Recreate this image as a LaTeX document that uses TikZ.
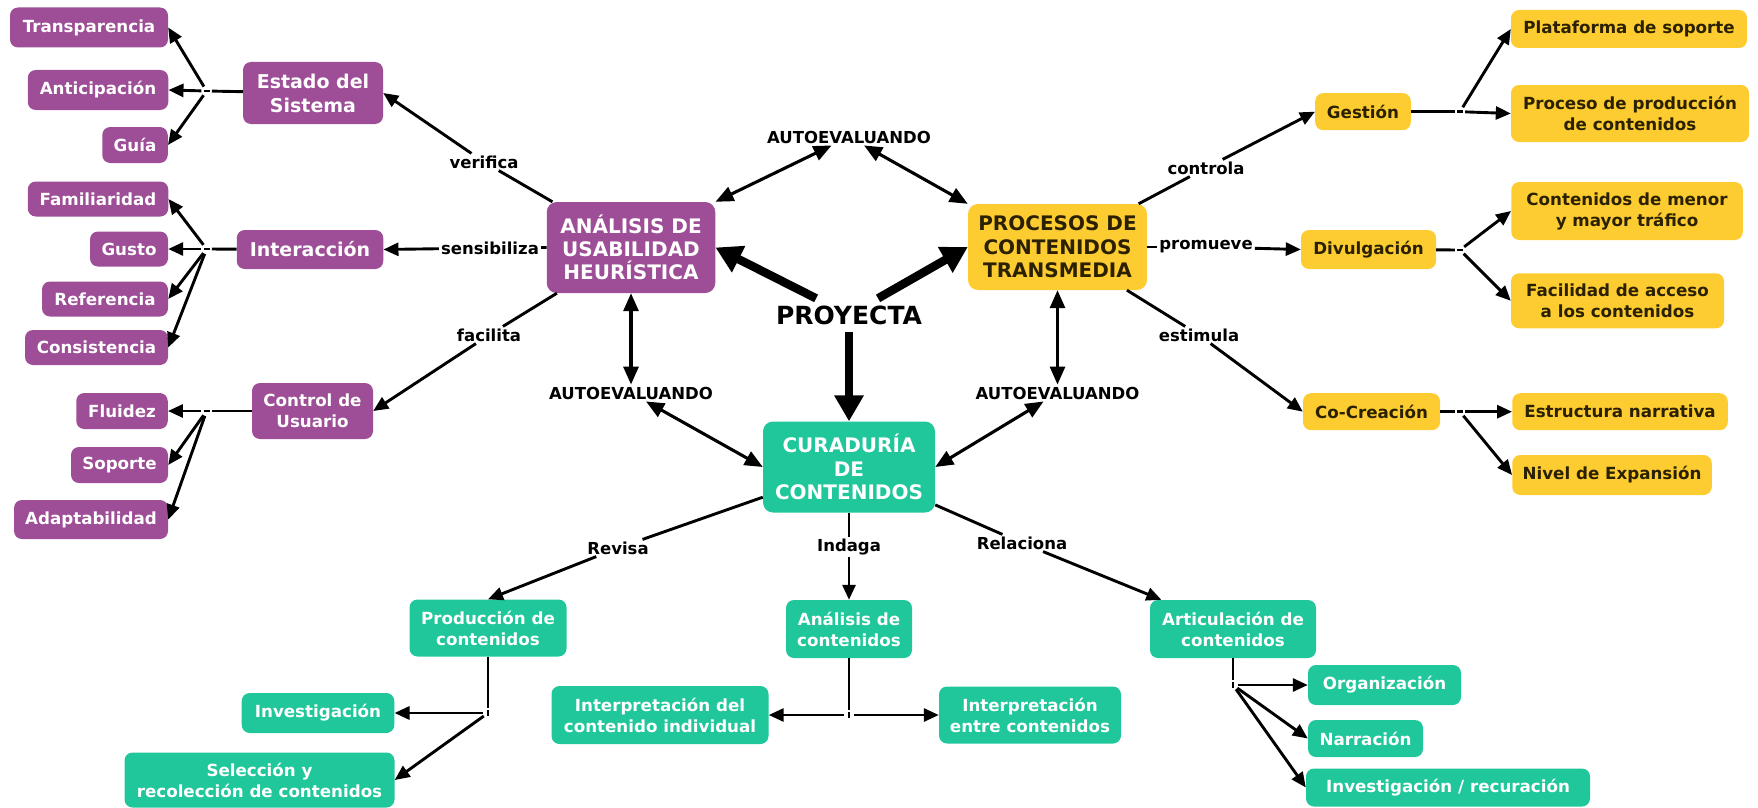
\documentclass[tikz,border=0pt]{standalone}
\usepackage{fontspec}
\setmainfont{DejaVu Sans}
\usetikzlibrary{arrows.meta,calc}

\definecolor{morado}{HTML}{9D4E96}
\definecolor{amarillo}{HTML}{FCCC30}
\definecolor{verde}{HTML}{20C79B}
\definecolor{tinta}{HTML}{2B2100}

\newcommand{\bfs}[2]{\fontsize{#1}{#2}\selectfont\bfseries}

\tikzset{
  box/.style={rounded corners=8pt, inner sep=2pt, align=center, font=\bfs{16.7}{21}},
  wh/.style 2 args={minimum width=#1pt, minimum height=#2pt},
  pbox/.style={box, fill=morado, text=white},
  ybox/.style={box, fill=amarillo, text=tinta},
  gbox/.style={box, fill=verde, text=white},
  big/.style={rounded corners=10pt, font=\bfs{20}{23.3}},
  mid/.style={font=\bfs{19}{24}},
  lbl/.style={inner sep=2pt, font=\bfs{16.5}{19}, text=black},
  jn/.style={circle, inner sep=0pt, minimum size=10pt},
  link/.style={line width=2.9pt, black},
  arr/.style={link, -{Triangle[length=15pt, width=13pt]}},
  dbl/.style={line width=3.1pt, black, {Triangle[length=18pt,width=15pt]}-{Triangle[length=18pt,width=15pt]}},
  proy/.style={line width=8.5pt, black, -{Triangle[length=26pt,width=28pt]}},
}

\begin{document}
\begin{tikzpicture}[x=1pt, y=-1pt]
\useasboundingbox (0,0) rectangle (1758,808);

% ---------------- central concepts ----------------
\node[pbox, big, wh={168.5}{91}] (ana) at (631,247.5) {ANÁLISIS DE\\USABILIDAD\\HEURÍSTICA};
\node[ybox, big, wh={179}{86}] (proc) at (1057.5,247) {PROCESOS DE\\CONTENIDOS\\TRANSMEDIA};
\node[gbox, big, wh={172}{91}] (cur) at (849,467) {CURADURÍA\\DE\\CONTENIDOS};

\node[lbl] (aut1) at (849,137) {AUTOEVALUANDO};
\node[lbl] (aut2) at (631,393) {AUTOEVALUANDO};
\node[lbl] (aut3) at (1057.5,393) {AUTOEVALUANDO};
\node[lbl, inner sep=7pt, font=\bfs{25}{28}] (proyecta) at (849,315) {PROYECTA};

% ---------------- usability branch ----------------
\node[pbox, mid, wh={140}{62}] (est) at (313,93) {Estado del\\Sistema};
\node[pbox, mid, wh={146.5}{39}] (inter) at (310,249.5) {Interacción};
\node[pbox, wh={121}{56}] (ctrl) at (312.5,411) {Control de\\Usuario};

\node[pbox, wh={158}{40}] (trans) at (89,27.5) {Transparencia};
\node[pbox, wh={140.5}{40}] (anti) at (98,90) {Anticipación};
\node[pbox, wh={65.5}{36}] (guia) at (135,145) {Guía};
\node[pbox, wh={140.5}{35}] (fam) at (98,199) {Familiaridad};
\node[pbox, wh={78}{35}] (gus) at (129,249) {Gusto};
\node[pbox, wh={126}{35}] (refe) at (105,299) {Referencia};
\node[pbox, wh={143}{35}] (cons) at (96.5,347.5) {Consistencia};
\node[pbox, wh={91.5}{36}] (flu) at (122,411) {Fluidez};
\node[pbox, wh={97}{36}] (sop) at (119.5,465) {Soporte};
\node[pbox, wh={154}{39}] (adap) at (91,519.5) {Adaptabilidad};

\node[lbl] (lver) at (484,162) {verifica};
\node[lbl] (lsen) at (490,248) {sensibiliza};
\node[lbl] (lfac) at (489,335) {facilita};

\node[jn] (j1) at (206.6,91) {};
\node[jn] (j2) at (206.6,249) {};
\node[jn] (j3) at (206.6,411) {};

% ---------------- transmedia branch ----------------
\node[ybox, wh={95.6}{37}] (ges) at (1363,111.7) {Gestión};
\node[ybox, wh={135}{39}] (div) at (1368.5,249.5) {Divulgación};
\node[ybox, wh={137}{37}] (cocr) at (1371.5,411.7) {Co-Creación};

\node[ybox, wh={236}{38}] (plat) at (1629,29) {Plataforma de soporte};
\node[ybox, wh={238}{57}] (pprod) at (1630,113.5) {Proceso de producción\\de contenidos};
\node[ybox, wh={231.5}{58}] (menor) at (1627,211) {Contenidos de menor\\y mayor tráfico};
\node[ybox, wh={213}{55}] (facil) at (1617.5,300.8) {Facilidad de acceso\\a los contenidos};
\node[ybox, wh={215.5}{37}] (estr) at (1620,411.7) {Estructura narrativa};
\node[ybox, wh={199.5}{40}] (nivel) at (1612,475) {Nivel de Expansión};

\node[lbl] (lcon) at (1206,168) {controla};
\node[lbl] (lpro) at (1206,247) {promueve};
\node[lbl] (lest) at (1199,335) {estimula};

\node[jn] (j4) at (1460,111.7) {};
\node[jn] (j5) at (1460,250) {};
\node[jn] (j6) at (1460,411.7) {};

% ---------------- curation branch ----------------
\node[gbox, wh={157}{57}] (prod) at (488,628) {Producción de\\contenidos};
\node[gbox, wh={126}{58}] (anc) at (849,629) {Análisis de\\contenidos};
\node[gbox, wh={166}{58}] (art) at (1233,629) {Articulación de\\contenidos};

\node[gbox, wh={152.6}{40}] (inv) at (318,713) {Investigación};
\node[gbox, wh={270}{55}] (sel) at (259.5,780) {Selección y\\recolección de contenidos};
\node[gbox, wh={217}{58}] (int1) at (660,715) {Interpretación del\\contenido individual};
\node[gbox, wh={182}{57}] (int2) at (1030,715) {Interpretación\\entre contenidos};
\node[gbox, wh={153}{40}] (org) at (1384.5,685) {Organización};
\node[gbox, wh={115}{37}] (nar) at (1365.5,738.5) {Narración};
\node[gbox, wh={284}{38}] (invr) at (1448,787.5) {Investigación / recuración};

\node[lbl] (lrev) at (618,548) {Revisa};
\node[lbl] (lind) at (849,547) {Indaga};
\node[lbl] (lrel) at (1022,543) {Relaciona};

\node[jn] (j7) at (488,713) {};
\node[jn] (j8) at (849,715) {};
\node[jn] (j9) at (1233,685) {};

% ---------------- connectors: centre ----------------
\draw[dbl] (ana.north east) -- (aut1);
\draw[dbl] (aut1) -- (proc.north west);
\draw[dbl] (ana.south) -- (aut2.north);
\draw[dbl] (proc.south) -- (aut3.north);
\draw[dbl] (aut2) -- (cur.west);
\draw[dbl] (aut3) -- (cur.east);

\draw[proy] (proyecta) -- (ana.east);
\draw[proy] (proyecta) -- (proc.west);
\draw[proy] (proyecta) -- (cur.north);

% ---------------- connectors: usability ----------------
\draw[link] (ana) -- (lver);
\draw[arr] (lver) -- (est.east);
\draw[link] (ana.west) -- (lsen);
\draw[arr] (lsen) -- (inter.east);
\draw[link] (ana) -- (lfac);
\draw[arr] (lfac) -- (ctrl.east);

\draw[link] (est) -- (j1);
\draw[link] (j1) +(-3,0) -- +(3,0);
\draw[arr] (j1) -- (trans.east);
\draw[arr] (j1) -- (anti.east);
\draw[arr] (j1) -- (guia.east);

\draw[link] (inter) -- (j2);
\draw[link] (j2) +(-3,0) -- +(3,0);
\draw[arr] (j2) -- (fam.east);
\draw[arr] (j2) -- (gus.east);
\draw[arr] (j2) -- (refe.east);
\draw[arr] (j2) -- (cons.east);

\draw[link] (ctrl) -- (j3);
\draw[link] (j3) +(-3,0) -- +(3,0);
\draw[arr] (j3) -- (flu.east);
\draw[arr] (j3) -- (sop.east);
\draw[arr] (j3) -- (adap.east);

% ---------------- connectors: transmedia ----------------
\draw[link] (proc) -- (lcon);
\draw[arr] (lcon) -- (ges.west);
\draw[link] (proc.east) -- (lpro);
\draw[arr] (lpro) -- (div.west);
\draw[link] (proc) -- (lest);
\draw[arr] (lest) -- (cocr.west);

\draw[link] (ges) -- (j4);
\draw[link] (j4) +(-3,0) -- +(3,0);
\draw[arr] (j4) -- (plat.west);
\draw[arr] (j4) -- (pprod.west);

\draw[link] (div) -- (j5);
\draw[link] (j5) +(-3,0) -- +(3,0);
\draw[arr] (j5) -- (menor.west);
\draw[arr] (j5) -- (facil.west);

\draw[link] (cocr) -- (j6);
\draw[link] (j6) +(-3,0) -- +(3,0);
\draw[arr] (j6) -- (estr.west);
\draw[arr] (j6) -- (nivel.west);

% ---------------- connectors: curation ----------------
\draw[link] (cur) -- (lrev);
\draw[arr] (lrev) -- (prod.north);
\draw[link] (cur.south) -- (lind);
\draw[arr] (lind) -- (anc.north);
\draw[link] (cur) -- (lrel);
\draw[arr] (lrel) -- (art);

\draw[link] (prod) -- (j7);
\draw[link] (j7) +(0,-3) -- +(0,3);
\draw[arr] (j7) -- (inv.east);
\draw[arr] (j7) -- (sel.east);

\draw[link] (anc) -- (j8);
\draw[link] (j8) +(0,-3) -- +(0,3);
\draw[arr] (j8) -- (int1.east);
\draw[arr] (j8) -- (int2.west);

\draw[link] (art) -- (j9);
\draw[link] (j9) +(0,-3) -- +(0,3);
\draw[arr] (j9) -- (org.west);
\draw[arr] (j9) -- (nar.west);
\draw[arr] (j9) -- (invr.west);
\end{tikzpicture}
\end{document}
